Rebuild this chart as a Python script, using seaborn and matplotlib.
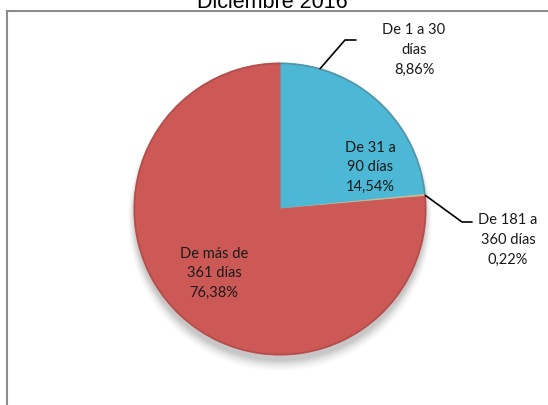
import numpy as np
import matplotlib
matplotlib.use("Agg")
import matplotlib.pyplot as plt
import seaborn as sns
from matplotlib.patches import Rectangle, Circle

title = "Diciembre 2016"
categories = ["De 1 a 30\ndías", "De 31 a\n90 días", "De 181 a\n360 días", "De más de\n361 días"]
values = [8.86, 14.54, 0.22, 76.38]
value_labels = ["8,86%", "14,54%", "0,22%", "76,38%"]
colors = ["#4DB8D5", "#4DB8D5", "#C2BC94", "#CD5957"]

sns.set_theme(style="white")
plt.rcParams["font.family"] = ["Lato", "DejaVu Sans"]

W, H = 548, 405
fig = plt.figure(figsize=(W / 100, H / 100), dpi=100)
ax = fig.add_axes([0, 0, 1, 1])

cx, cy, R = 280, H - 209, 146

# frame
ax.add_patch(Rectangle((7, -20), W + 30, (H - 11) + 20, fill=False,
                       edgecolor="#8C8C8C", linewidth=1.5, zorder=0))

# soft shadow
for i, a in enumerate(np.linspace(0.06, 0.02, 6)):
    ax.add_patch(Circle((cx, cy - 6 - i * 0.8), R + i * 1.2,
                        facecolor="black", edgecolor="none", alpha=a, zorder=1))

wedges, _ = ax.pie(values, colors=colors, startangle=90, counterclock=False,
                   center=(cx, cy), radius=R, frame=True,
                   wedgeprops=dict(linewidth=0.8))
for w, c in zip(wedges, colors):
    w.set_edgecolor(c)
    w.set_zorder(2)
ax.set_xlim(0, W)
ax.set_ylim(0, H)
ax.set_aspect("equal")
ax.axis("off")

# rim shading
ax.add_patch(Circle((cx, cy), R - 0.5, fill=False, edgecolor="#6b3230",
                    linewidth=1.0, alpha=0.3, zorder=3))

fs = 10.5
cum = np.cumsum([0] + values[:-1])
mids = [90 - (c + v / 2) * 3.6 for c, v in zip(cum, values)]

# inside labels
ax.text(370, H - 167, categories[1] + "\n" + value_labels[1], ha="center", va="center",
        fontsize=fs, linespacing=1.5, color="#1a1a1a", zorder=5)
ax.text(214, H - 273, categories[3] + "\n" + value_labels[3], ha="center", va="center",
        fontsize=fs, linespacing=1.5, color="#1a1a1a", zorder=5)

# outside labels with leader lines
a0 = np.deg2rad(mids[0])
p0 = (cx + R * np.cos(a0), cy + R * np.sin(a0))
ax.plot([p0[0], 345, 356], [p0[1], H - 40, H - 40], color="black", lw=1.2, zorder=4)
ax.text(414, H - 50, categories[0] + "\n" + value_labels[0], ha="center", va="center",
        fontsize=fs, linespacing=1.5, color="#1a1a1a", zorder=5)

a2 = np.deg2rad(mids[2])
p2 = (cx + R * np.cos(a2), cy + R * np.sin(a2))
ax.plot([p2[0], 462, 472], [p2[1], H - 222, H - 222], color="black", lw=1.2, zorder=4)
ax.text(508, H - 240, categories[2] + "\n" + value_labels[2], ha="center", va="center",
        fontsize=fs, linespacing=1.5, color="#1a1a1a", zorder=5)

ax.text(272, H - 2, title, ha="center", va="center", fontsize=15.5,
        family=["Liberation Sans", "DejaVu Sans"], color="black", zorder=5)

fig.savefig("out.png", dpi=100)
